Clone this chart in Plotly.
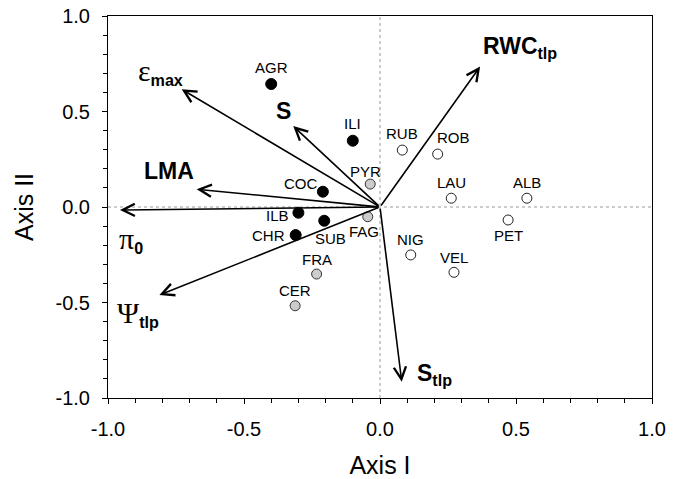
import plotly.graph_objects as go

# ---- data ----
species = ["AGR", "ILI", "COC", "ILB", "SUB", "CHR",
           "PYR", "FAG", "FRA", "CER",
           "RUB", "ROB", "LAU", "ALB", "PET", "NIG", "VEL"]
axis_1 = [-0.40, -0.10, -0.21, -0.30, -0.205, -0.31,
          -0.036, -0.045, -0.233, -0.312,
          0.082, 0.212, 0.262, 0.540, 0.471, 0.113, 0.272]
axis_2 = [0.644, 0.347, 0.080, -0.030, -0.072, -0.147,
          0.120, -0.051, -0.351, -0.517,
          0.298, 0.277, 0.046, 0.046, -0.068, -0.251, -0.342]
group = ["filled"] * 6 + ["gray"] * 4 + ["open"] * 7

variables = ["eps_max", "S", "LMA", "pi_0", "psi_tlp", "S_tlp", "RWC_tlp"]
GREEK = '<span style="font-family:Liberation Serif;font-size:30px">{}</span>'
var_labels = [
    GREEK.format("ε") + "<sub><b>max</b></sub>",
    "<b>S</b>",
    "<b>LMA</b>",
    GREEK.format("π") + "<sub><b>0</b></sub>",
    GREEK.format("Ψ") + "<sub><b>tlp</b></sub>",
    "<b>S<sub>tlp</sub></b>",
    "<b>RWC<sub>tlp</sub></b>",
]
var_axis_1 = [-0.729, -0.319, -0.674, -0.956, -0.811, 0.080, 0.368]
var_axis_2 = [0.616, 0.424, 0.093, -0.016, -0.461, -0.915, 0.735]

tick_vals = [-1.0, -0.5, 0.0, 0.5, 1.0]
tick_text = ["-1.0", "-0.5", "0.0", "0.5", "1.0"]

# ---- styles / placements (pixel offsets of labels) ----
point_label_offset = {  # (dx, dy) pixels, dy down-positive
    "AGR": (0, -17), "ILI": (0, -17), "COC": (-22, -8), "ILB": (-21, 3),
    "SUB": (6, 18), "CHR": (-27, 0), "PYR": (-5, -13), "FAG": (-4, 15),
    "FRA": (0, -15), "CER": (0, -15), "RUB": (0, -17), "ROB": (16, -17),
    "LAU": (0, -16), "ALB": (0, -16), "PET": (0, 16), "NIG": (0, -15),
    "VEL": (0, -15),
}
var_label_offset = {
    "eps_max": (-21, -18), "S": (-10, -15), "LMA": (-28, -18),
    "pi_0": (11, 29), "psi_tlp": (-21, 18), "S_tlp": (33, -7),
    "RWC_tlp": (40, -19),
}
group_style = {
    "filled": dict(color="black", size=11, line=dict(color="black", width=1)),
    "gray": dict(color="#cccccc", size=10, line=dict(color="#333333", width=1)),
    "open": dict(color="white", size=10, line=dict(color="#222222", width=1)),
}
FONT = "Liberation Sans, Arial, sans-serif"

fig = go.Figure()

for g in ["filled", "gray", "open"]:
    idx = [i for i, gg in enumerate(group) if gg == g]
    fig.add_trace(go.Scatter(
        x=[axis_1[i] for i in idx],
        y=[axis_2[i] for i in idx],
        mode="markers",
        marker=dict(symbol="circle", **group_style[g]),
        text=[species[i] for i in idx],
        hoverinfo="text",
        showlegend=False,
    ))

annotations = []
# arrows from origin
for name, vx, vy in zip(variables, var_axis_1, var_axis_2):
    annotations.append(dict(
        x=vx, y=vy, xref="x", yref="y",
        ax=0, ay=0, axref="x", ayref="y",
        text="", showarrow=True,
        arrowhead=5, arrowsize=1.5, arrowwidth=1.6, arrowcolor="black",
        standoff=0, startstandoff=0,
    ))
# variable labels
for name, lab, vx, vy in zip(variables, var_labels, var_axis_1, var_axis_2):
    dx, dy = var_label_offset[name]
    annotations.append(dict(
        x=vx, y=vy, xref="x", yref="y", text=lab,
        showarrow=False, xshift=dx, yshift=-dy,
        xanchor="center", yanchor="middle",
        font=dict(family=FONT, size=23, color="black"),
    ))
# point labels
for sp, px, py in zip(species, axis_1, axis_2):
    dx, dy = point_label_offset[sp]
    annotations.append(dict(
        x=px, y=py, xref="x", yref="y", text=sp, showarrow=False,
        xshift=dx, yshift=-dy, xanchor="center", yanchor="middle",
        font=dict(family=FONT, size=15, color="black"),
    ))

shapes = [
    dict(type="line", xref="x", yref="y", x0=0, x1=0, y0=-1, y1=1,
         line=dict(color="#9a9a9a", width=1, dash="dot"), layer="below"),
    dict(type="line", xref="x", yref="y", x0=-1, x1=1, y0=0, y1=0,
         line=dict(color="#9a9a9a", width=1, dash="dot"), layer="below"),
]

axis_common = dict(
    range=[-1, 1], tickvals=tick_vals, ticktext=tick_text,
    ticks="outside", ticklen=5, tickwidth=1, tickcolor="black",
    showline=True, linecolor="black", linewidth=1, mirror=True,
    showgrid=False, zeroline=False, automargin=False,
    tickfont=dict(family=FONT, size=20, color="black"),
    minor=dict(dtick=0.1, tick0=0, ticks="outside", ticklen=4,
               tickcolor="black", showgrid=False),
    ticklabelstandoff=8,
)

fig.update_layout(
    width=678, height=479,
    margin=dict(l=108, r=26, t=16, b=81),
    paper_bgcolor="white", plot_bgcolor="white",
    xaxis=dict(**axis_common, title=dict(text="Axis I", standoff=22,
               font=dict(family=FONT, size=25, color="black"))),
    yaxis=dict(**axis_common, title=dict(text="Axis II", standoff=14,
               font=dict(family=FONT, size=25, color="black"))),
    annotations=annotations,
    shapes=shapes,
    showlegend=False,
)

fig.write_html("out.html")
